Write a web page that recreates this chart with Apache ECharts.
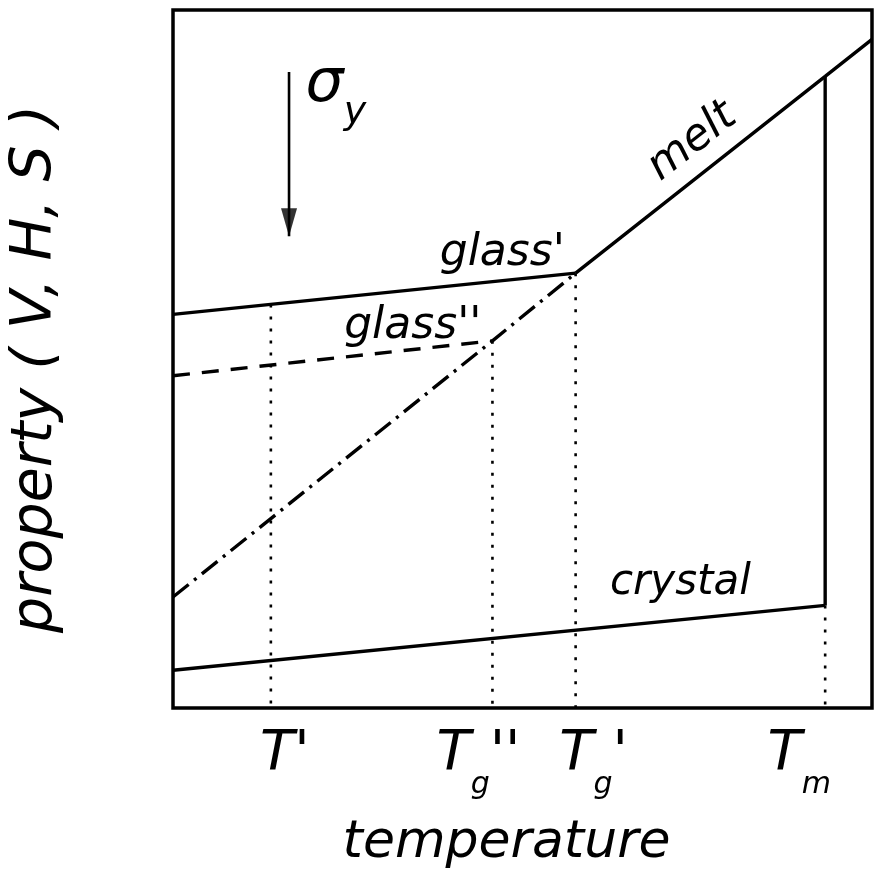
<!DOCTYPE html>
<html><head><meta charset="utf-8">
<script src="https://cdn.jsdelivr.net/npm/echarts@6/dist/echarts.min.js"></script>
<style>html,body{margin:0;padding:0;background:#fff}#c{width:878px;height:888px}</style>
</head><body><div id="c"></div>
<script>
// ---- data (schematic units: temperature 0..100, property 0..100) ----
const tickValues = [14, 45.7, 57.6, 93.3];
const tickLabels = ["T'", "T_g''", "T_g'", "T_m"];
const glassPrime = [[0, 56.4], [57.6, 62.3]];
const melt = [[57.6, 62.3], [93.3, 90.5], [100, 95.8]];
const supercooled = [[0, 15.9], [45.7, 52.6], [57.6, 62.3]];
const glassDouble = [[0, 47.6], [45.7, 52.6]];
const crystal = [[0, 5.4], [93.3, 14.7]];
const meltingJump = [[93.3, 14.7], [93.3, 90.5]];
const dropTops = [57.8, 52.6, 62.3, 14.7];
const arrow = [[16.6, 91.1], [16.6, 67.6]];
const xTitle = 'temperature';
const yTitle = 'property ( V, H, S )';
const curveNames = ['melt', "glass'", "glass''", 'crystal'];

// ---- layout / style ----
const FONT = 'DejaVu Sans';
const notePos = [[74.3, 81.1], [47.1, 65.1], [34.3, 54.7], [72.6, 17.9]];
const noteRot = [38, 0, 0, 0];
const noteSize = [44, 44, 44, 42];
const labelShift = [14, -14, 18, -26];
const sigmaPos = [23.3, 88];
const LW = 3.4;

const rich = {
  T: {fontSize: 56, lineHeight: 60, padding: [0, 0, 16, 0], fontStyle: 'italic', fontFamily: FONT, color: '#000'},
  g: {fontSize: 30, lineHeight: 30, padding: [46, 0, 0, 0], fontStyle: 'italic', fontFamily: FONT, color: '#000'}
};
labelShift.forEach((s, i) => { rich['sp' + i] = {width: Math.abs(s) * 2, fontSize: 10}; });

function tickFmt(v, i) {
  let idx = tickValues.findIndex(t => Math.abs(t - v) < 1e-6);
  if (idx < 0) idx = i;
  const s = tickLabels[idx];
  let str;
  if (s.indexOf('_') >= 0) {
    const parts = s.split('_');
    const r = parts[1];
    str = '{T|' + parts[0] + '}{g|' + r[0] + '}' + (r.length > 1 ? '{T|' + r.slice(1) + '}' : '');
  } else {
    str = '{T|' + s + '}';
  }
  const sh = labelShift[idx];
  if (sh > 0) str = '{sp' + idx + '| }' + str;
  else if (sh < 0) str = str + '{sp' + idx + '| }';
  return str;
}

function lineSeries(data, type, width) {
  return {
    type: 'line', data: data, showSymbol: false, silent: true, animation: false,
    lineStyle: {color: '#000', width: width || LW, type: type || 'solid', cap: 'butt'},
    z: 3
  };
}

function note(i) {
  return {
    symbol: 'circle', symbolSize: 1, silent: true, animation: false,
    itemStyle: {color: 'rgba(0,0,0,0)'},
    data: [{coord: notePos[i], value: curveNames[i]}],
    label: {show: true, position: 'inside', formatter: curveNames[i], rotate: noteRot[i],
      fontSize: noteSize[i], fontStyle: 'italic', fontFamily: FONT, color: '#000'}
  };
}

const series = [];
const sMelt = lineSeries(melt); sMelt.markPoint = note(0); series.push(sMelt);
const sGp = lineSeries(glassPrime); sGp.markPoint = note(1); series.push(sGp);
const sGd = lineSeries(glassDouble, [17, 12]); sGd.markPoint = note(2); series.push(sGd);
series.push(lineSeries(supercooled, [20, 7, 3, 7]));
const sCr = lineSeries(crystal); sCr.markPoint = note(3); series.push(sCr);
series.push(lineSeries(meltingJump));
tickValues.forEach((x, i) => {
  series.push(lineSeries([[x, dropTops[i]], [x, 0]], [3, 9], 2.6));
});
const sArrow = lineSeries(arrow, 'solid', 2.6);
sArrow.markPoint = {
  symbol: 'circle', symbolSize: 1, silent: true, animation: false,
  itemStyle: {color: 'rgba(0,0,0,0)'},
  data: [{coord: sigmaPos, value: 'σy'}],
  label: {show: true, position: 'inside', formatter: '{s|σ}{y|y}',
    rich: {
      s: {fontSize: 60, lineHeight: 60, padding: [0, 0, 17, 0], fontStyle: 'italic', fontFamily: FONT, color: '#000'},
      y: {fontSize: 38, lineHeight: 38, padding: [39, 0, 0, 0], fontStyle: 'italic', fontFamily: FONT, color: '#000'}
    }}
};
series.push(sArrow);
series.push({
  type: 'scatter', data: [arrow[1]], silent: true, animation: false,
  symbol: 'path://M0,0 L16,0 L8,28 Z', symbolSize: [16, 28], symbolOffset: [0, -14],
  itemStyle: {color: '#000'}, z: 4
});

const chart = echarts.init(document.getElementById('c'), null, {renderer: 'canvas'});
chart.setOption({
  backgroundColor: '#fff',
  animation: false,
  grid: {left: 170, right: 6, top: 10, bottom: 180, show: true, borderColor: '#000', borderWidth: 3.5, backgroundColor: 'transparent'},
  xAxis: {
    type: 'value', min: 0, max: 100,
    axisLine: {show: false}, axisTick: {show: false}, splitLine: {show: false},
    axisLabel: {customValues: tickValues, margin: 24, formatter: tickFmt, rich: rich},
    name: xTitle, nameLocation: 'middle', nameGap: 109,
    nameTextStyle: {fontSize: 52, lineHeight: 52, fontStyle: 'italic', fontFamily: FONT, color: '#000', padding: [0, 32, 0, 0]}
  },
  yAxis: {
    type: 'value', min: 0, max: 100,
    axisLine: {show: false}, axisTick: {show: false}, splitLine: {show: false}, axisLabel: {show: false},
    name: yTitle, nameLocation: 'middle', nameRotate: 90, nameGap: 108,
    nameTextStyle: {fontSize: 57, lineHeight: 57, fontStyle: 'italic', fontFamily: FONT, color: '#000', padding: [0, 20, 0, 0]}
  },
  series: series
});
</script></body></html>
